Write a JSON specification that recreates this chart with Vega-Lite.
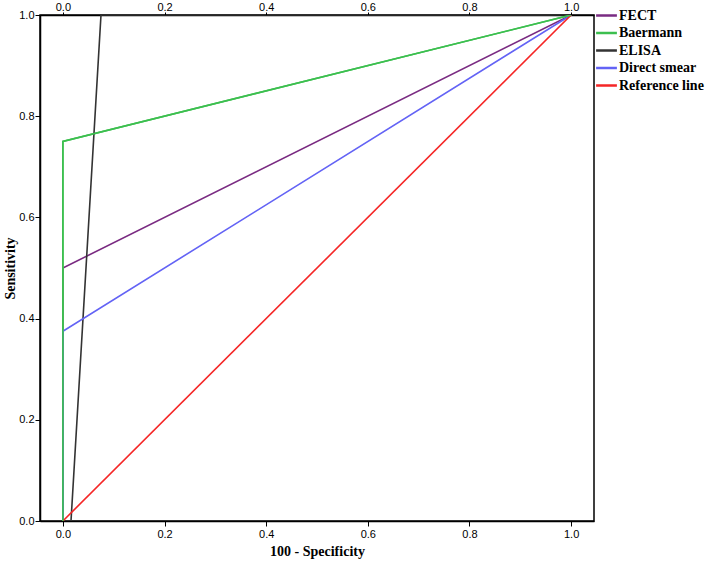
{
  "$schema": "https://vega.github.io/schema/vega-lite/v6.json",
  "width": 554,
  "height": 506,
  "autosize": "none",
  "padding": {"left": 40, "top": 15, "right": 114, "bottom": 41},
  "background": "white",
  "config": {
    "view": {"stroke": "black", "strokeWidth": 1.5},
    "axis": {
      "domainColor": "black", "domainWidth": 1.5, "tickColor": "black", "tickSize": 5,
      "labelFont": "Liberation Sans", "labelFontSize": 11, "labelColor": "black",
      "titleFont": "Liberation Serif", "titleFontSize": 14, "titleFontWeight": "bold", "titleColor": "black",
      "grid": false
    }
  },
  "data": {
    "values": [
      {"test": "FECT", "fpr": 0, "tpr": 0, "ord": 0},
      {"test": "FECT", "fpr": 0, "tpr": 0.5, "ord": 1},
      {"test": "FECT", "fpr": 1, "tpr": 1, "ord": 2},
      {"test": "Baermann", "fpr": 0, "tpr": 0, "ord": 0},
      {"test": "Baermann", "fpr": 0, "tpr": 0.75, "ord": 1},
      {"test": "Baermann", "fpr": 1, "tpr": 1, "ord": 2},
      {"test": "ELISA", "fpr": 0.016, "tpr": 0, "ord": 0},
      {"test": "ELISA", "fpr": 0.075, "tpr": 1, "ord": 1},
      {"test": "ELISA", "fpr": 1, "tpr": 1, "ord": 2},
      {"test": "Direct smear", "fpr": 0, "tpr": 0, "ord": 0},
      {"test": "Direct smear", "fpr": 0, "tpr": 0.375, "ord": 1},
      {"test": "Direct smear", "fpr": 1, "tpr": 1, "ord": 2},
      {"test": "Reference line", "fpr": 0, "tpr": 0, "ord": 0},
      {"test": "Reference line", "fpr": 1, "tpr": 1, "ord": 1}
    ]
  },
  "layer": [
    {
      "mark": {"type": "line", "strokeWidth": 1.6, "clip": true},
      "encoding": {
        "x": {"field": "fpr", "type": "quantitative", "scale": {"domain": [-0.045, 1.045], "nice": false, "zero": false},
              "axis": {"values": [0, 0.2, 0.4, 0.6, 0.8, 1.0], "format": ".1f", "title": "100 - Specificity", "titlePadding": 5}},
        "y": {"field": "tpr", "type": "quantitative", "scale": {"domain": [0, 1], "nice": false},
              "axis": {"values": [0, 0.2, 0.4, 0.6, 0.8, 1.0], "format": ".1f", "title": "Sensitivity", "titlePadding": 1, "labelPadding": 1}},
        "color": {"field": "test", "type": "nominal",
          "scale": {"domain": ["FECT", "Baermann", "ELISA", "Direct smear", "Reference line"],
                    "range": ["#7a2b82", "#3cbf4f", "#333333", "#6363f5", "#f52626"]},
          "legend": {"title": null, "orient": "none", "legendX": 557, "legendY": -9,
                     "symbolType": "M-1.3,0H1.3", "symbolSize": 256, "symbolStrokeWidth": 2.5,
                     "labelFont": "Liberation Serif", "labelFontSize": 14, "labelFontWeight": "bold", "labelColor": "black",
                     "rowPadding": 0.5, "labelOffset": 3, "symbolOffset": 0}},
        "order": {"field": "ord", "type": "quantitative"}
      }
    },
    {
      "transform": [{"filter": "datum.test === 'Baermann'"}],
      "mark": {"type": "line", "strokeWidth": 1.6, "clip": true, "color": "#3cbf4f"},
      "encoding": {
        "x": {"field": "fpr", "type": "quantitative", "axis": null},
        "y": {"field": "tpr", "type": "quantitative"},
        "order": {"field": "ord", "type": "quantitative"}
      }
    },
    {
      "mark": {"type": "rule", "opacity": 0},
      "encoding": {
        "x": {"datum": 0, "type": "quantitative", "axis": {"orient": "top", "values": [0, 0.2, 0.4, 0.6, 0.8, 1.0], "format": ".1f", "title": null, "labelPadding": 0, "tickSize": 3}}
      }
    }
  ],
  "resolve": {"axis": {"x": "independent"}, "scale": {"x": "shared"}}
}
